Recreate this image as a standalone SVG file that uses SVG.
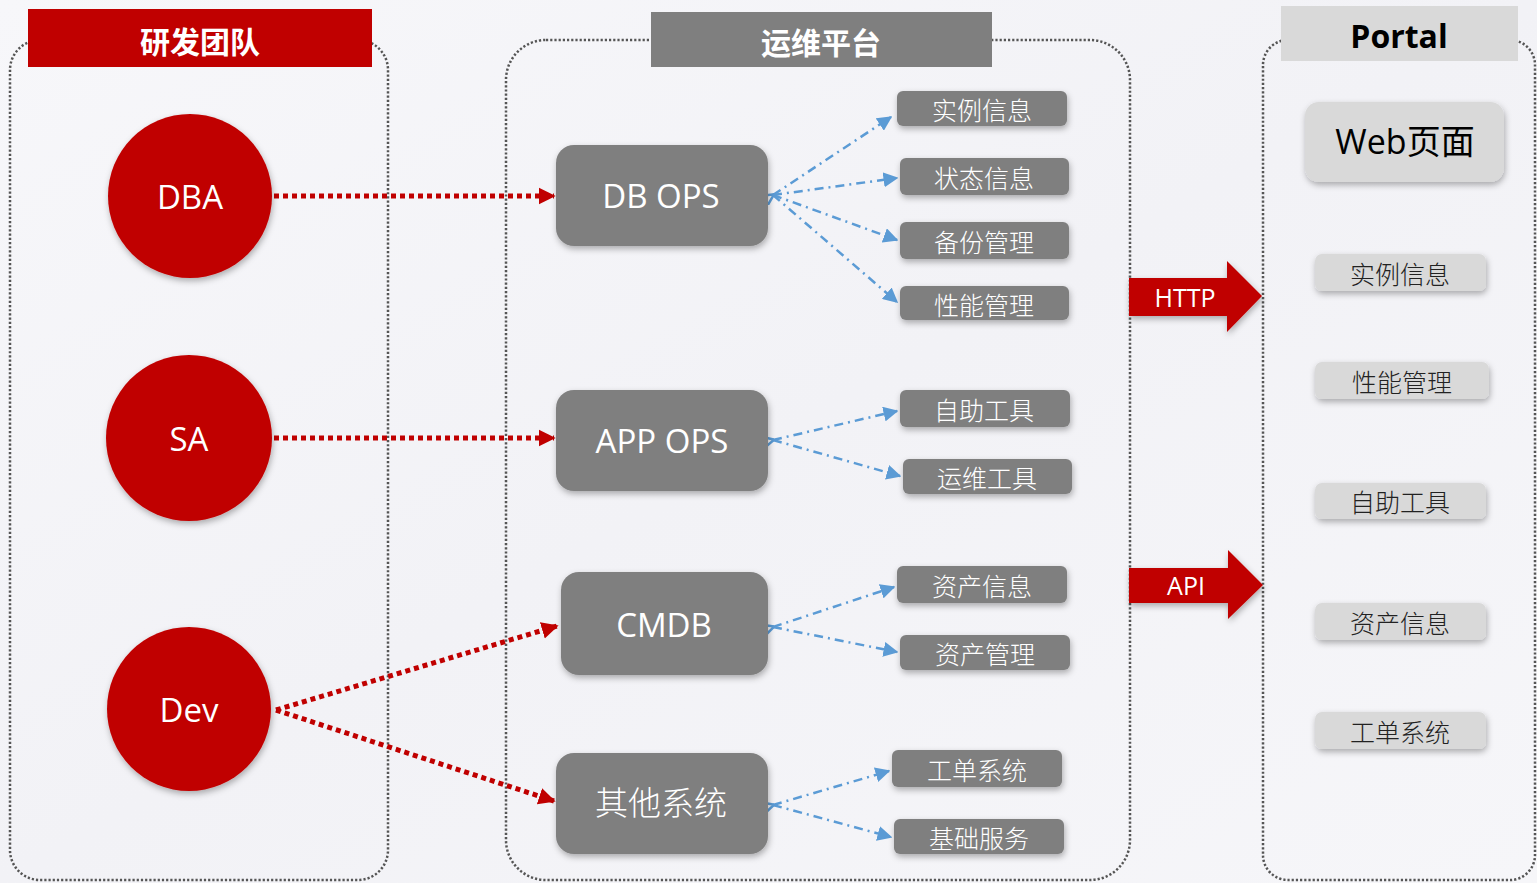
<svg xmlns="http://www.w3.org/2000/svg" width="1537" height="883" viewBox="0 0 1537 883">
<defs>
<style>
.cont{fill:none;stroke:#555;stroke-width:2.5;stroke-dasharray:2.2 2}
.circ{fill:#c00000}
.big{fill:#7f7f7f}
.sm{fill:#7f7f7f}
.lt{fill:#d9d9d9}
.ctxt{font-family:"Open Sans","Noto Sans",sans-serif;fill:#fff;text-anchor:middle;dominant-baseline:central}
.btxt{font-family:"Open Sans","Noto Sans","Noto Sans CJK SC",sans-serif;fill:#fff;text-anchor:middle;dominant-baseline:central;font-size:33px}
.stxt{font-family:"Noto Sans CJK SC",sans-serif;fill:#fff;text-anchor:middle;dominant-baseline:central;font-size:25px;font-weight:300}
.ltxt{font-family:"Noto Sans CJK SC",sans-serif;fill:#222;text-anchor:middle;dominant-baseline:central;font-size:25px;font-weight:300}
.ttl{font-family:"Noto Sans CJK SC",sans-serif;text-anchor:middle;dominant-baseline:central;font-size:30px;font-weight:bold}
.red{fill:none;stroke:#c00000;stroke-width:5;stroke-dasharray:5 4}
.blue{fill:none;stroke:#5b9bd5;stroke-width:2.5;stroke-dasharray:9 5 2 5}
.arr{fill:#c00000}
</style>
<filter id="sh" x="-20%" y="-20%" width="140%" height="150%">
<feDropShadow dx="1" dy="3" stdDeviation="3" flood-color="#000" flood-opacity="0.3"/>
</filter>
<marker id="mr" viewBox="0 0 10 10" refX="9" refY="5" markerWidth="3.4" markerHeight="3.6" orient="auto" markerUnits="strokeWidth">
<path d="M0,0 L10,5 L0,10 z" fill="#c00000"/>
</marker>
<marker id="mb" viewBox="0 0 10 10" refX="9" refY="5" markerWidth="6" markerHeight="6" orient="auto" markerUnits="strokeWidth">
<path d="M0,0 L10,5 L0,10 z" fill="#5b9bd5"/>
</marker>
<marker id="mbs" viewBox="0 0 10 10" refX="1" refY="5" markerWidth="5" markerHeight="5" orient="auto-start-reverse" markerUnits="strokeWidth">
<path d="M10,0 L0,5 L10,10" fill="none" stroke="#5b9bd5" stroke-width="2"/>
</marker>
<linearGradient id="bg" x1="0" y1="0" x2="1" y2="1">
<stop offset="0" stop-color="#f7f7fa"/>
<stop offset="0.5" stop-color="#f2f2f6"/>
<stop offset="1" stop-color="#f6f6f9"/>
</linearGradient>
</defs>
<rect width="1537" height="883" fill="url(#bg)"/>

<g id="containers">
<rect class="cont" x="10" y="40" width="378" height="840" rx="30"/>
<rect class="cont" x="506" y="40" width="624" height="840" rx="40"/>
<rect class="cont" x="1263" y="40" width="272" height="840" rx="25"/>
</g>

<g id="title-dev">
<rect x="28" y="9" width="344" height="58" fill="#c00000"/>
<text class="ttl" x="200" y="40" fill="#fff">研发团队</text>
</g>
<g id="title-ops">
<rect x="651" y="12" width="341" height="55" fill="#7f7f7f"/>
<text class="ttl" x="821" y="41" fill="#fff">运维平台</text>
</g>
<g id="title-portal">
<rect x="1281" y="6" width="237" height="55" fill="#d9d9d9"/>
<text x="1399" y="35" font-family="'Open Sans','Noto Sans',sans-serif" font-weight="bold" font-size="32" fill="#000" text-anchor="middle" dominant-baseline="central">Portal</text>
</g>

<g id="connectors">
<path class="red" d="M274,196 L554,196" marker-end="url(#mr)"/>
<path class="red" d="M274,438 L554,438" marker-end="url(#mr)"/>
<path class="red" d="M276,710 L557,626" marker-end="url(#mr)"/>
<path class="red" d="M276,710 L554,801" marker-end="url(#mr)"/>

<path class="blue" d="M773,195 L891,117" marker-start="url(#mbs)" marker-end="url(#mb)"/>
<path class="blue" d="M773,195 L897,178" marker-end="url(#mb)"/>
<path class="blue" d="M773,195 L897,240" marker-end="url(#mb)"/>
<path class="blue" d="M773,195 L897,302" marker-end="url(#mb)"/>

<path class="blue" d="M773,440 L897,411" marker-start="url(#mbs)" marker-end="url(#mb)"/>
<path class="blue" d="M773,440 L900,476" marker-end="url(#mb)"/>

<path class="blue" d="M773,627 L894,587" marker-start="url(#mbs)" marker-end="url(#mb)"/>
<path class="blue" d="M773,627 L897,652" marker-end="url(#mb)"/>

<path class="blue" d="M773,805 L889,771" marker-start="url(#mbs)" marker-end="url(#mb)"/>
<path class="blue" d="M773,805 L891,837" marker-end="url(#mb)"/>
</g>

<g id="http-arrow">
<path class="arr" filter="url(#sh)" d="M1129,278 L1227,278 L1227,261 L1262,296 L1227,332 L1227,316 L1129,316 z"/>
<text class="ctxt" x="1185" y="297" font-size="25">HTTP</text>
</g>
<g id="api-arrow">
<path class="arr" filter="url(#sh)" d="M1129,568 L1228,568 L1228,550 L1263,585 L1228,619 L1228,603 L1129,603 z"/>
<text class="ctxt" x="1186" y="585" font-size="25">API</text>
</g>

<g id="node-dba"><circle class="circ" filter="url(#sh)" cx="190" cy="196" r="82"/><text class="ctxt" x="190" y="196" font-size="33">DBA</text></g>
<g id="node-sa"><circle class="circ" filter="url(#sh)" cx="189" cy="438" r="83"/><text class="ctxt" x="189" y="438" font-size="33">SA</text></g>
<g id="node-dev"><circle class="circ" filter="url(#sh)" cx="189" cy="709" r="82"/><text class="ctxt" x="189" y="709" font-size="33">Dev</text></g>

<g id="node-dbops"><rect class="big" filter="url(#sh)" x="556" y="145" width="212" height="101" rx="18"/><text class="btxt" x="661" y="195">DB OPS</text></g>
<g id="node-appops"><rect class="big" filter="url(#sh)" x="556" y="390" width="212" height="101" rx="18"/><text class="btxt" x="662" y="440">APP OPS</text></g>
<g id="node-cmdb"><rect class="big" filter="url(#sh)" x="561" y="572" width="207" height="103" rx="18"/><text class="btxt" x="664" y="624">CMDB</text></g>
<g id="node-other"><rect class="big" filter="url(#sh)" x="556" y="753" width="212" height="101" rx="18"/><text class="btxt" x="661" y="802" font-weight="300" font-size="36">其他系统</text></g>

<g id="node-s1"><rect class="sm" filter="url(#sh)" x="897" y="91" width="170" height="35" rx="6"/><text class="stxt" x="982" y="109">实例信息</text></g>
<g id="node-s2"><rect class="sm" filter="url(#sh)" x="900" y="158" width="169" height="37" rx="6"/><text class="stxt" x="984" y="177">状态信息</text></g>
<g id="node-s3"><rect class="sm" filter="url(#sh)" x="900" y="222" width="169" height="37" rx="6"/><text class="stxt" x="984" y="241">备份管理</text></g>
<g id="node-s4"><rect class="sm" filter="url(#sh)" x="900" y="286" width="169" height="34" rx="6"/><text class="stxt" x="984" y="304">性能管理</text></g>
<g id="node-s5"><rect class="sm" filter="url(#sh)" x="900" y="390" width="170" height="37" rx="6"/><text class="stxt" x="984" y="409">自助工具</text></g>
<g id="node-s6"><rect class="sm" filter="url(#sh)" x="903" y="459" width="169" height="35" rx="6"/><text class="stxt" x="987" y="477">运维工具</text></g>
<g id="node-s7"><rect class="sm" filter="url(#sh)" x="897" y="566" width="170" height="37" rx="6"/><text class="stxt" x="982" y="585">资产信息</text></g>
<g id="node-s8"><rect class="sm" filter="url(#sh)" x="900" y="635" width="170" height="35" rx="6"/><text class="stxt" x="985" y="653">资产管理</text></g>
<g id="node-s9"><rect class="sm" filter="url(#sh)" x="892" y="750" width="170" height="37" rx="6"/><text class="stxt" x="977" y="769">工单系统</text></g>
<g id="node-s10"><rect class="sm" filter="url(#sh)" x="894" y="819" width="170" height="35" rx="6"/><text class="stxt" x="979" y="837">基础服务</text></g>

<g id="node-web"><rect class="lt" filter="url(#sh)" x="1305" y="102" width="199" height="80" rx="14"/><text x="1405" y="141" font-family="'Open Sans','Noto Sans','Noto Sans CJK SC',sans-serif" font-size="34" fill="#000" text-anchor="middle" dominant-baseline="central">Web页面</text></g>
<g id="node-p1"><rect class="lt" filter="url(#sh)" x="1315" y="254" width="171" height="37" rx="7"/><text class="ltxt" x="1400" y="273">实例信息</text></g>
<g id="node-p2"><rect class="lt" filter="url(#sh)" x="1315" y="362" width="174" height="37" rx="7"/><text class="ltxt" x="1402" y="381">性能管理</text></g>
<g id="node-p3"><rect class="lt" filter="url(#sh)" x="1315" y="483" width="171" height="36" rx="7"/><text class="ltxt" x="1400" y="501">自助工具</text></g>
<g id="node-p4"><rect class="lt" filter="url(#sh)" x="1315" y="603" width="171" height="37" rx="7"/><text class="ltxt" x="1400" y="622">资产信息</text></g>
<g id="node-p5"><rect class="lt" filter="url(#sh)" x="1315" y="712" width="171" height="37" rx="7"/><text class="ltxt" x="1400" y="731">工单系统</text></g>
</svg>
